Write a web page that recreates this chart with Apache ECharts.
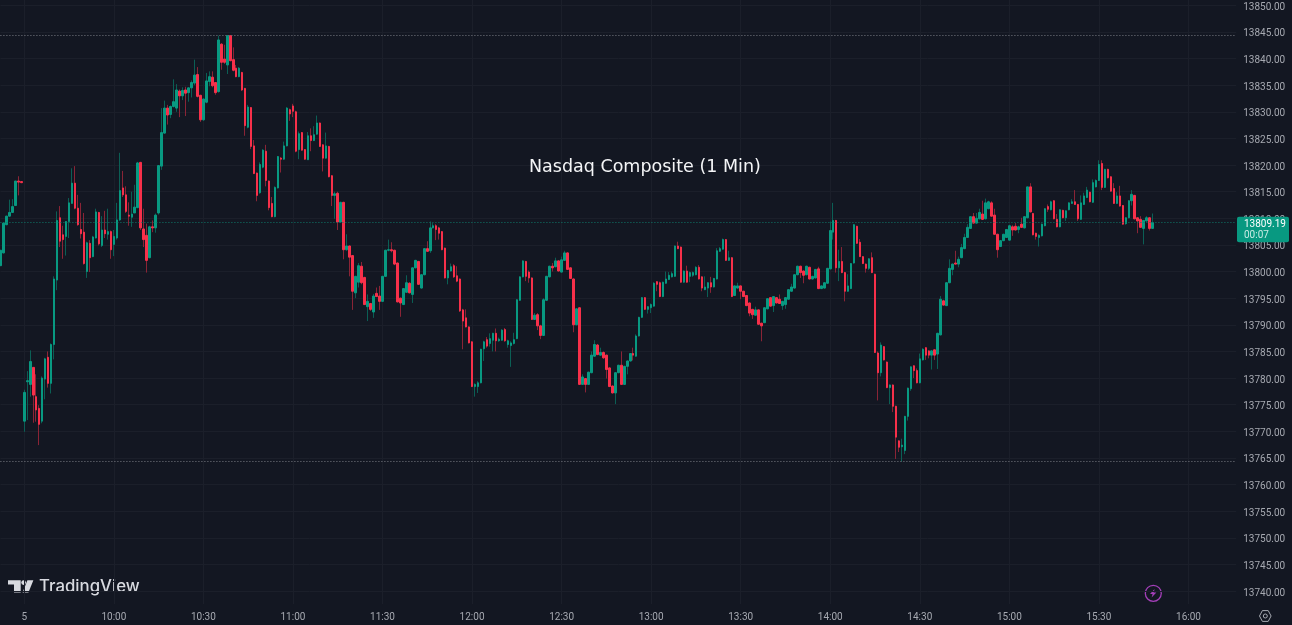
<!DOCTYPE html>
<html>
<head>
<meta charset="utf-8">
<title>Nasdaq Composite (1 Min)</title>
<script src="https://cdn.jsdelivr.net/npm/echarts@6/dist/echarts.min.js"></script>
<style>
  html, body { margin: 0; padding: 0; background: #131722; }
  #chart { width: 1292px; height: 625px; filter: blur(0.5px); }
</style>
</head>
<body>
<div id="chart"></div>
<script>
const opens = [
  13801.1,13803.5,13808.8,13810.4,13811.1,13812.4,13817,13816.9,13771.9,13779.3,
  13778.8,13782,13776.5,13774.3,13771.9,13779.8,13783.9,13779,13786.3,13798.4,
  13810.1,13806.9,13806.6,13809.4,13812.8,13816.6,13811.9,13807.9,13807.4,13800,
  13805.3,13802.8,13806.3,13811.1,13804.9,13807.8,13807,13807.5,13805.1,13806.3,
  13809.7,13815.7,13814.4,13810.6,13810.2,13811,13812,13820.5,13808,13806.8,
  13802.6,13808.4,13808.2,13811,13819.8,13826,13830.7,13829.5,13831,13830.7,
  13833.9,13833,13834.1,13833.6,13834.5,13835.4,13837,13833.1,13828.5,13831.8,
  13835.7,13836.5,13835.5,13833.8,13842.7,13839.9,13838.8,13844.3,13839.8,13838.2,
  13836.6,13837.4,13834.4,13827.1,13830.8,13823.6,13818.5,13814.8,13819.6,13822.6,
  13817,13812.8,13810.3,13815.7,13821.3,13821.1,13823.6,13830.4,13831.1,13830,
  13822.9,13826.1,13822.9,13821,13825.5,13824.6,13825.8,13827.9,13823.8,13821.3,
  13823.5,13818,13814.3,13814.7,13809.3,13813,13804.1,13804.8,13803,13796,
  13798,13801,13798.9,13793.4,13794,13792.4,13795.9,13795.4,13794.4,13799.1,
  13804,13804.1,13804,13801.6,13795,13793.8,13796.1,13797.8,13795.7,13800.7,
  13801.9,13796.9,13799.4,13804.3,13803.9,13808.2,13808.6,13808.2,13807.5,13804.4,
  13798.8,13800.1,13801.1,13799.2,13798.6,13792.8,13791.3,13789.6,13786.8,13778.4,
  13778.4,13779.1,13785.5,13787.2,13786.5,13787.1,13788.4,13787,13787.1,13789.1,
  13786.3,13786.1,13786.5,13787.4,13794.6,13799,13801.9,13799.9,13798.8,13791,
  13791.9,13789.8,13788,13794.6,13799,13801,13800.9,13802,13799.9,13802.1,
  13803.5,13800.7,13798.6,13790,13793.2,13778.8,13779.9,13778.8,13781,13784.1,
  13786.2,13784.3,13784.8,13784.3,13781.9,13778.5,13777.2,13781,13782.4,13778.8,
  13782.2,13783.2,13784.6,13784.1,13787.9,13791.4,13795.1,13792.9,13793.2,13793.5,
  13798.1,13797.9,13795.3,13797.8,13798.5,13799,13799.1,13804.8,13804.6,13798,
  13800.1,13799.1,13799.3,13799.4,13800.8,13799,13796.6,13796.9,13797.9,13797.1,
  13798.6,13803.8,13804.2,13806,13802.1,13802.6,13795.5,13796.9,13797.3,13796.3,
  13795.5,13794.1,13792.9,13791.8,13792.8,13790.3,13790.4,13793,13795.1,13793.6,
  13795.1,13794.8,13793.6,13793.8,13794.8,13796.3,13796.9,13799.4,13801,13800.1,
  13799.4,13800.8,13798.6,13798.8,13800.5,13796.8,13796.9,13797.8,13800.5,13807.4,
  13809.6,13800.7,13801.9,13799.8,13796.3,13796.8,13801.6,13808.5,13805.5,13802.8,
  13801.4,13800.6,13802.6,13799.5,13784.7,13781,13785.9,13783,13778.2,13778.7,
  13774.7,13768.2,13767.1,13766.4,13772.8,13778,13782.3,13781.4,13779.1,13783.4,
  13785.7,13785.1,13784.3,13785.3,13784.5,13788.1,13794.5,13793.6,13797.9,13800.4,
  13801.6,13801.4,13802.6,13804.3,13806.4,13808.1,13810.3,13809.1,13809.9,13810.8,
  13809.9,13811.8,13812.9,13810.6,13807,13804.7,13805.8,13806.4,13805.9,13808.4,
  13808.5,13807.9,13808.9,13808.2,13810.1,13815.9,13810.9,13807.2,13806.4,13806.7,
  13808.6,13812.2,13811.6,13813.3,13809.8,13808.4,13811.5,13810.1,13811.6,13812.8,
  13813.1,13812.6,13809.8,13812.6,13813.9,13814.9,13813,13815.9,13817.1,13820.3,
  13815.8,13819.2,13817.8,13815.6,13812.8,13814.2,13812.4,13809,13810.1,13813.3,
  13814.3,13810.1,13809.8,13808.1,13809.5,13810.1,13808.1
]
const closes = [
  13804,13809.1,13810.4,13811.1,13812.2,13817,13816.8,13816.7,13777.3,13779.5,
  13783.1,13776.8,13774,13771.3,13780,13783.6,13779,13786.3,13798.6,13809.6,
  13805.7,13806,13809.4,13812.9,13816.6,13811.9,13808.8,13807.1,13801.5,13805.4,
  13802.6,13806.5,13811.2,13805.2,13807.8,13807.1,13807.5,13804.1,13806.6,13809.7,
  13815.2,13814.4,13811.3,13810.4,13810.8,13812.1,13820.4,13808.2,13806,13802.1,
  13808.4,13808.2,13810.6,13819.9,13826.1,13830.7,13829.4,13831,13831.9,13834.1,
  13833,13834,13833.5,13834.5,13835.5,13836.9,13832.9,13828.5,13832.4,13835.8,
  13836.6,13834.9,13833.6,13843.5,13839.3,13839.3,13844.3,13839.6,13837.8,13836.6,
  13838.2,13834.1,13827.4,13830.9,13823.5,13818.4,13814.3,13820.1,13822.8,13817.1,
  13812,13810.3,13815.8,13821.6,13821.1,13823.6,13830.7,13829.6,13830.1,13822.6,
  13825.9,13822.8,13821.1,13825.5,13824.6,13825.7,13827.9,13823.5,13821.3,13823.6,
  13817.8,13814.3,13814.6,13809.3,13813,13804.1,13804.8,13802.7,13796.3,13799.1,
  13801.1,13797.9,13793.8,13794.4,13792.9,13795.4,13795.3,13794.4,13799.1,13804,
  13804.1,13803.9,13801.4,13794.3,13794.1,13796.8,13797.9,13796,13800.7,13802.1,
  13797.6,13799.4,13804.3,13803.8,13808.2,13808.6,13807.9,13807.2,13804.1,13798.8,
  13800.2,13800.9,13799,13798.2,13792.6,13790.7,13789.6,13786.6,13778.4,13778.8,
  13779.1,13785.4,13786.8,13786,13787.4,13788.4,13787,13787.3,13789,13787,
  13787,13786.6,13787.2,13794.7,13799,13802,13799.1,13798.8,13791,13791.8,
  13789.8,13788,13794.7,13799.1,13801,13800.7,13802,13800.1,13802.2,13803.5,
  13800.4,13798.7,13790,13793,13778.8,13780.2,13778.8,13781.1,13784.3,13786.3,
  13784.4,13784.8,13783.8,13781.6,13778.4,13777.2,13781,13782.4,13778.8,13782.2,
  13783.2,13784.6,13784.3,13787.9,13791.4,13795.1,13792.9,13793.4,13793.8,13797.8,
  13797.6,13795.3,13798,13798.6,13799.3,13799.6,13804.8,13804.3,13798,13800.1,
  13798,13799.8,13799.8,13800.8,13798.6,13796.9,13797.1,13797.9,13797.1,13798.7,
  13803.9,13804.3,13806,13802.1,13802.6,13795.3,13797.3,13797.3,13796.3,13795.3,
  13793.6,13792.2,13791.9,13792.8,13790.1,13789.8,13793.2,13794.9,13793.5,13795.3,
  13794.1,13794,13794.4,13795.1,13796.6,13797.1,13799.4,13801,13799.8,13799.3,
  13801,13798.6,13799.1,13800.4,13796.8,13797.3,13797.9,13800.6,13807.7,13809.6,
  13800.7,13801.9,13799.8,13796.3,13797.3,13801.5,13808.8,13805.3,13802.8,13801.5,
  13800.6,13802.4,13799.8,13784.8,13781,13786.2,13783.4,13778.2,13778.7,13774.7,
  13768.9,13767,13767.4,13772.8,13778.1,13782.1,13781.4,13779.1,13783.6,13785.4,
  13784.3,13784.3,13785.1,13784.3,13788.4,13794.8,13793.7,13797.9,13800.6,13801.4,
  13801.4,13802.3,13804.5,13806.4,13808.3,13810.3,13809.1,13810,13811.1,13809.8,
  13812.9,13813.1,13810.4,13807,13804.1,13805.8,13807,13807.9,13808.6,13807.8,
  13807.8,13808.4,13808.3,13810.3,13815.9,13811.2,13806.9,13806.6,13806.8,13808.9,
  13811.8,13811.7,13813.1,13809.9,13808.4,13811.6,13810.1,13811.4,13812.9,13813.1,
  13812.6,13809.9,13812.9,13814.2,13815.3,13813.1,13816.7,13817.1,13820.1,13815.8,
  13819.2,13817.6,13815.1,13812.8,13814.2,13812.3,13808.9,13810.1,13813.3,13814.5,
  13809.9,13809.5,13808.3,13809.6,13810.1,13808.1,13809.19
]
const highs = [
  13804,13809.2,13810.5,13813.5,13813.6,13817,13817.9,13817,13777.8,13781.3,
  13785.2,13782,13780.7,13774.9,13780.3,13783.8,13785,13786.5,13799.1,13811.3,
  13812.3,13808.6,13809.4,13813.8,13819.4,13819.8,13814.4,13812.9,13811,13805.6,
  13805.9,13806.7,13811.8,13811.2,13810.4,13811.4,13811.8,13807.7,13807.8,13812.9,
  13822.3,13818.9,13816,13813,13815,13816.3,13820.6,13820.6,13811.8,13809,
  13808.6,13809.6,13810.9,13820,13830.7,13832.1,13831.3,13831.2,13836.1,13835.2,
  13834.2,13834.6,13834.7,13834.6,13835.9,13839.8,13838.4,13833.2,13832.5,13837.3,
  13837.6,13837.6,13835.6,13844.3,13842.9,13842.6,13844.3,13844.3,13842.1,13838.8,
  13838.4,13837.5,13834.5,13831.3,13830.9,13824.7,13818.6,13820.5,13823,13823.8,
  13817.1,13814,13816,13821.7,13821.5,13824.4,13830.9,13830.6,13831.5,13830.2,
  13826.3,13826.2,13823,13826.2,13826.9,13827.3,13829.3,13828,13823.9,13826.1,
  13823.6,13818.1,13815,13815,13813.1,13813.1,13807,13804.9,13803.1,13799.2,
  13801.6,13801.8,13799,13795.7,13794.1,13795.8,13797,13797.3,13799.2,13804.1,
  13806,13805.5,13804.1,13801.7,13795.1,13796.9,13799.3,13798,13800.8,13802.2,
  13802,13799.5,13804.4,13805.7,13809.4,13809.1,13808.9,13808.4,13807.6,13804.5,
  13800.3,13801.5,13801.4,13801,13798.7,13793,13792.9,13789.7,13786.9,13779,
  13779.4,13785.5,13787,13787.7,13788.4,13788.5,13789.3,13787.6,13789.2,13789.4,
  13787.2,13786.9,13788.5,13794.8,13799.1,13802.1,13802,13800.2,13798.9,13792.2,
  13792.2,13790,13795,13799.2,13801.1,13801.6,13802.6,13802.1,13802.8,13803.9,
  13803.6,13800.8,13798.7,13793.1,13793.3,13780.7,13780,13781.2,13785,13787.1,
  13786.4,13785.7,13785,13784.4,13782,13778.6,13781.1,13782.5,13785,13782.3,
  13783.3,13784.7,13785.7,13788.2,13791.5,13795.2,13795.2,13793.5,13794,13798,
  13798.2,13798.1,13798.1,13800,13799.9,13800,13804.9,13805.6,13804.7,13800.2,
  13801.1,13800,13800,13801,13801.2,13799.1,13799.1,13798,13799,13798.8,
  13804.4,13804.6,13806.2,13806.1,13803.9,13802.7,13797.4,13797.9,13797.4,13796.4,
  13795.6,13794.2,13793,13793.4,13792.9,13790.4,13793.3,13795,13795.2,13795.4,
  13795.2,13795.7,13794.5,13795.2,13796.7,13797.7,13799.5,13801.1,13801.1,13800.2,
  13801.1,13800.9,13799.2,13800.5,13800.9,13797.4,13798,13800.7,13809.4,13812.9,
  13809.7,13804.1,13804.6,13799.9,13799.5,13801.6,13808.9,13808.6,13806.1,13802.9,
  13801.5,13802.5,13803.6,13799.6,13785,13786.7,13786,13783.1,13778.8,13778.8,
  13774.8,13768.3,13768.6,13772.9,13778.2,13782.2,13782.4,13781.8,13784.6,13785.6,
  13785.8,13785.2,13785.2,13785.4,13788.5,13795.4,13794.7,13798,13802.3,13801.5,
  13803.9,13802.8,13805.2,13807.1,13808.9,13810.4,13811,13811,13811.8,13813.3,
  13813.7,13813.3,13813.2,13811.8,13807.1,13805.9,13807.1,13808,13808.8,13808.7,
  13809.1,13808.6,13810.1,13810.4,13815.9,13816.6,13811,13807.3,13807,13809,
  13811.9,13812.6,13813.3,13813.4,13810.8,13811.7,13811.6,13811.5,13813,13813.6,
  13815.3,13812.7,13814.3,13814.8,13815.9,13815,13817.3,13817.3,13820.9,13820.9,
  13819.3,13819.3,13817.9,13816.6,13814.9,13816.1,13812.5,13810.2,13813.4,13815.3,
  13814.4,13810.2,13810.4,13809.7,13810.4,13810.2,13810.9
]
const lows = [
  13801.1,13803.4,13808.7,13810.3,13811,13812.3,13814.3,13816.6,13769.9,13772.1,
  13776.5,13771.6,13771.8,13767.4,13771.5,13776,13778.2,13777.1,13783.5,13796.5,
  13804.6,13802.4,13803,13806.3,13812.8,13811.7,13808.6,13806.2,13801.3,13798.8,
  13799.9,13802.7,13806.2,13804.9,13804.6,13806.3,13806,13802.4,13802.9,13806,
  13809.5,13814,13811,13808.6,13808.4,13811,13811.9,13807.8,13804.6,13799.8,
  13802.5,13807.4,13807.3,13810.7,13819.1,13825.9,13827.6,13828.8,13830.8,13830,
  13829,13832.2,13829.2,13831.9,13832.7,13835,13832.7,13828.1,13828.3,13831.6,
  13834.8,13834.6,13833.2,13833.6,13837.9,13839,13837.1,13839.5,13837.6,13836.5,
  13836.5,13833.9,13825.5,13826.9,13823,13818.3,13813.2,13814.6,13819.4,13816,
  13811.5,13810.2,13810.2,13815.6,13818.6,13821,13823.5,13828.3,13829,13822.4,
  13821.1,13822.7,13821,13821,13822.6,13824.5,13825.7,13823.4,13818.8,13821.2,
  13817.7,13812.3,13809.9,13807.8,13809.2,13802.3,13803.9,13799.1,13792.8,13795,
  13797,13797.6,13793.7,13790.7,13792.6,13791.3,13795.2,13792.8,13794.3,13799,
  13803.8,13803.6,13801.2,13794.2,13791.5,13793.7,13796,13795.9,13794.1,13800.6,
  13797.5,13796.8,13799.3,13803.7,13803.5,13808.1,13805.9,13806,13804,13798.7,
  13797.6,13800,13798.8,13798,13792.4,13785.4,13789.5,13786.5,13778.3,13776.5,
  13777.2,13779,13783.2,13785.7,13785.9,13785,13785,13786.8,13787,13786.8,
  13785.7,13782.1,13786.3,13787.3,13794.5,13798.9,13798.2,13797.9,13790.9,13790.9,
  13789,13787.3,13787.9,13794.5,13798.9,13800,13800.8,13800,13799.8,13802,
  13800.3,13798.6,13788.6,13789.9,13778.7,13778.7,13777.3,13778.7,13780.9,13784,
  13784.3,13784.2,13783.6,13779.9,13778.3,13777.1,13775.1,13780.9,13778.7,13778.7,
  13780.7,13783.1,13783.3,13784,13787.8,13791.3,13792.8,13792.1,13792.2,13793.4,
  13796.3,13795.2,13795.2,13797.7,13798.4,13798.9,13799,13804.2,13797.9,13797.9,
  13797.9,13798,13799,13799.3,13798.5,13796.3,13796.5,13795.2,13796,13797,
  13798.5,13803.7,13804.1,13802,13802,13795.2,13795.4,13796.8,13794.8,13795.2,
  13793.5,13791.6,13791.1,13791.7,13790,13786.9,13790.3,13792.9,13793.4,13792.4,
  13794,13793.9,13792.8,13793,13794.7,13796.2,13796.8,13799.3,13798.8,13797.8,
  13799.3,13798.5,13798.5,13798.7,13796.7,13796.7,13796.8,13797.7,13800.4,13806,
  13799.8,13798.2,13799.7,13794.4,13796.2,13796.7,13801.5,13805.2,13802.8,13801.4,
  13799.8,13800.3,13799.7,13784.7,13775.8,13780.3,13783.3,13778.1,13775.1,13773.6,
  13764.8,13766.1,13764.3,13765.7,13772,13777.6,13780,13779,13779,13783.3,
  13783.4,13783.7,13781.6,13783.4,13781.7,13788,13793.6,13793.5,13797.8,13799.3,
  13801.3,13800.8,13802.5,13804.2,13806.3,13808,13809,13809,13809.8,13809.7,
  13809.8,13811.7,13810.3,13806.9,13802.6,13804.6,13805.7,13806.3,13805.8,13806.7,
  13807.7,13807.2,13808.2,13808.1,13810,13811.1,13806.8,13806,13804.7,13806.6,
  13808.5,13811.2,13811.5,13809.8,13808.3,13808.3,13810,13809.5,13811.5,13812.7,
  13812.5,13809.5,13809.7,13812.5,13813.8,13813,13812.9,13815.8,13817,13815.3,
  13815.7,13817.5,13815,13812.7,13812.7,13812.2,13808.8,13808.8,13810,13812.4,
  13809.8,13807.2,13808.2,13805.1,13809.4,13807.7,13808
]

const priceTicks = [13740, 13745, 13750, 13755, 13760, 13765, 13770, 13775, 13780, 13785, 13790, 13795,
  13800, 13805, 13810, 13815, 13820, 13825, 13830, 13835, 13840, 13845, 13850]
const timeTicks = ['5', '10:00', '10:30', '11:00', '11:30', '12:00', '12:30', '13:00', '13:30', '14:00',
  '14:30', '15:00', '15:30', '16:00']
const sessionHigh = 13844.3
const sessionLow = 13764.3
const lastPrice = 13809.19
const lastPriceText = '13809.19'
const countdownText = '00:07'

const UP = '#089981'
const DOWN = '#f7304a'
const UP_WICK = '#0b5f55'
const DOWN_WICK = '#8a2436'
const TEXT = '#a6a9b1'
const FONT = 'Roboto, sans-serif'

// 8 bars left over from the previous session, then the day opens at 9:30 (label "5")
function buildCategories () {
  const list = []
  for (let i = 0; i < 415; i++) {
    if (i === 8) {
      list.push('5')
      continue
    }
    const minutes = i < 8 ? 15 * 60 + 52 + i : 9 * 60 + 30 + (i - 8)
    const h = String(Math.floor(minutes / 60)).padStart(2, '0')
    const m = String(minutes % 60).padStart(2, '0')
    list.push(h + ':' + m)
  }
  return list
}

const categories = buildCategories()
const isTimeTick = (index, value) => timeTicks.includes(value)

const wickData = opens.map((o, i) => [o, closes[i], lows[i], highs[i]])
const bodyData = opens.map((o, i) => [o, closes[i], Math.min(o, closes[i]), Math.max(o, closes[i])])

const chart = echarts.init(document.getElementById('chart'), null, { renderer: 'canvas' })

chart.setOption({
  backgroundColor: '#131722',
  animation: false,
  title: {
    text: 'Nasdaq Composite (1 Min)',
    left: 524,
    top: 153,
    textStyle: { color: '#f4f5f7', fontFamily: 'DejaVu Sans', fontSize: 17.5, fontWeight: 'normal' }
  },
  grid: { left: 0.42, top: 0, width: 1235.8, height: 604 },
  xAxis: {
    type: 'category',
    data: categories,
    boundaryGap: false,
    axisLine: { show: false },
    axisTick: { show: false },
    axisLabel: { interval: isTimeTick, color: TEXT, fontFamily: FONT, fontSize: 10, margin: 8 },
    splitLine: { show: true, interval: isTimeTick, lineStyle: { color: '#1b1f2a', width: 1 } }
  },
  yAxis: {
    type: 'value',
    position: 'right',
    min: 13737.56,
    max: 13851,
    axisLine: { show: false },
    axisTick: { show: false, customValues: priceTicks },
    axisLabel: {
      customValues: priceTicks,
      formatter: v => '{p|' + v.toFixed(2) + '}',
      rich: { p: { color: TEXT, fontFamily: FONT, fontSize: 10, padding: [4, 0, 0, 0] } },
      margin: 7
    },
    splitLine: { show: true, lineStyle: { color: '#1b1f2a', width: 1 } }
  },
  series: [
    {
      name: 'wicks',
      type: 'candlestick',
      data: wickData,
      barWidth: 1,
      silent: true,
      progressive: 0,
      itemStyle: {
        color: UP_WICK,
        color0: DOWN_WICK,
        borderColor: UP_WICK,
        borderColor0: DOWN_WICK,
        borderColorDoji: UP_WICK,
        borderWidth: 1
      },
      markLine: {
        silent: true,
        animation: false,
        symbol: 'none',
        label: { show: false },
        data: [
          { yAxis: sessionHigh, lineStyle: { color: '#7a7d85', type: [1, 2], width: 1 } },
          { yAxis: sessionLow, lineStyle: { color: '#7a7d85', type: [1, 2], width: 1 } },
          { yAxis: lastPrice, lineStyle: { color: '#0f7a6b', type: [1, 2], width: 1 } }
        ]
      }
    },
    {
      name: 'bodies',
      type: 'candlestick',
      data: bodyData,
      barWidth: 2,
      silent: true,
      progressive: 0,
      itemStyle: {
        color: UP,
        color0: DOWN,
        borderColor: UP,
        borderColor0: DOWN,
        borderColorDoji: UP,
        borderWidth: 1
      }
    }
  ],
  graphic: [
    // TradingView mark and name
    {
      type: 'polygon',
      shape: { points: [[8, 580.3], [20.7, 580.3], [20.7, 592.6], [14, 592.6], [14, 584.6], [8, 584.6]] },
      style: { fill: '#d8dae0' }
    },
    {
      type: 'circle',
      shape: { cx: 23.6, cy: 582.6, r: 2.3 },
      style: { fill: '#d8dae0' }
    },
    {
      type: 'polygon',
      shape: { points: [[27.4, 580.3], [33.4, 580.3], [28.4, 592.6], [22.6, 592.6]] },
      style: { fill: '#d8dae0' }
    },
    {
      type: 'text',
      x: 39,
      y: 587,
      style: {
        text: 'TradingView',
        fill: '#d8dae0',
        font: '500 16.8px Inter, sans-serif',
        textVerticalAlign: 'middle'
      }
    },
    // bolt badge
    {
      type: 'circle',
      shape: { cx: 1153.3, cy: 593.3, r: 8 },
      style: { fill: 'none', stroke: '#a33fb8', lineWidth: 1.3 }
    },
    {
      type: 'polygon',
      shape: { points: [[1154.6, 589], [1150, 594], [1152.6, 594], [1151.6, 597.6], [1156.4, 592.4], [1153.7, 592.4]] },
      style: { fill: '#a33fb8' }
    },
    // settings button
    {
      type: 'polygon',
      shape: { points: [[1259.5, 616], [1262.4, 610.6], [1268.2, 610.6], [1271.1, 616], [1268.2, 621.4], [1262.4, 621.4]] },
      style: { fill: 'none', stroke: '#a6a9b1', lineWidth: 1 }
    },
    {
      type: 'circle',
      shape: { cx: 1265.3, cy: 616, r: 2 },
      style: { fill: 'none', stroke: '#a6a9b1', lineWidth: 1 }
    },
    // last price tag
    {
      type: 'rect',
      shape: { x: 1237, y: 216.7, width: 52, height: 25.6, r: 2 },
      style: { fill: '#089981' },
      z: 10
    },
    {
      type: 'text',
      x: 1244,
      y: 224.5,
      z: 11,
      style: { text: lastPriceText, fill: '#ffffff', font: '10px ' + FONT, textVerticalAlign: 'middle' }
    },
    {
      type: 'text',
      x: 1244,
      y: 235.5,
      z: 11,
      style: { text: countdownText, fill: '#c8ebe4', font: '10px ' + FONT, textVerticalAlign: 'middle' }
    }
  ]
})

window.onresize = () => {
  chart.resize()
}
</script>
</body>
</html>
